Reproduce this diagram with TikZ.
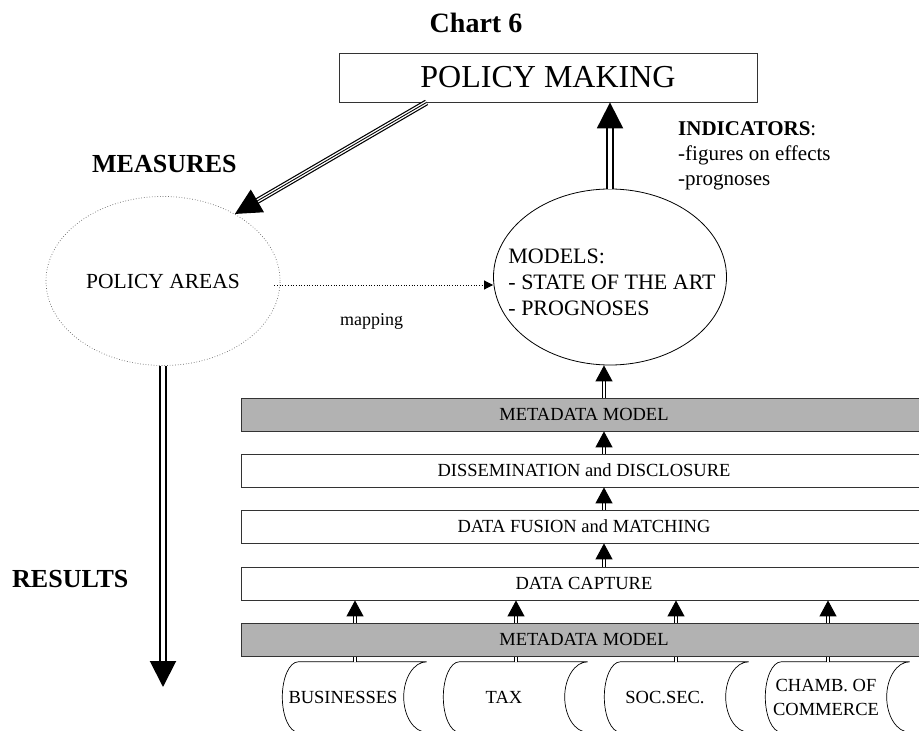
\documentclass[tikz,border=0pt]{standalone}
\usepackage{fontspec}
\setmainfont{Liberation Serif}
\usetikzlibrary{shapes.geometric, arrows.meta}
\tikzstyle{layer}=[draw=black!80, line width=.8bp, minimum width=686bp, minimum height=33bp, inner sep=0, font=\fontsize{18.5bp}{22bp}\selectfont]
\tikzstyle{meta}=[layer, fill=black!30]
\tikzstyle{store}=[minimum width=121bp, minimum height=70bp, inner sep=0, align=center, font=\fontsize{18.5bp}{24bp}\selectfont,
  append after command={\pgfextra{\let\thisstore\tikzlastnode
    \draw[line width=.7bp] ([xshift=16bp]\thisstore.north west)
      .. controls ([xshift=7bp]\thisstore.north west) and ([yshift=19bp]\thisstore.west) .. (\thisstore.west)
      .. controls ([yshift=-19bp]\thisstore.west) and ([xshift=7bp]\thisstore.south west) .. ([xshift=16bp]\thisstore.south west)
      -- ([xshift=23bp]\thisstore.south east)
      .. controls ([xshift=10bp]\thisstore.south east) and ([yshift=-19bp]\thisstore.east) .. (\thisstore.east)
      .. controls ([yshift=19bp]\thisstore.east) and ([xshift=10bp]\thisstore.north east) .. ([xshift=23bp]\thisstore.north east)
      -- cycle;}}]
\tikzstyle{bigarrow}=[double, double distance=3.2bp, line width=2bp, -{Triangle[length=26bp, width=26bp]}]
\tikzstyle{smallarrow}=[double, double distance=1.8bp, line width=1bp, -{Triangle[length=16bp, width=17bp]}]
\tikzstyle{mapline}=[dotted, line width=.7bp, -{Triangle[length=9bp, width=9bp]}]
\tikzstyle{heading}=[font=\bfseries\fontsize{26bp}{30bp}\selectfont, anchor=base west, inner sep=0]

\begin{document}
\begin{tikzpicture}[x=1bp, y=-1bp]
  \useasboundingbox (0,0) rectangle (919,731);
  \clip (0,0) rectangle (919,731);

  \node[font=\bfseries\fontsize{28bp}{30bp}\selectfont, anchor=base, inner sep=0] (title) at (476,33) {Chart 6};
  \node[draw=black!80, line width=.8bp, minimum width=418bp, minimum height=49bp, font=\fontsize{32bp}{34bp}\selectfont] (pm) at (548,77.5) {POLICY MAKING};

  \node[ellipse, draw=black!60, dotted, line width=.7bp, minimum width=234bp, minimum height=169bp, inner sep=0, font=\fontsize{21.5bp}{24bp}\selectfont] (pa) at (163,281) {POLICY AREAS};
  \node[ellipse, draw, line width=.8bp, minimum width=233bp, minimum height=176bp] (models) at (610,277) {};
  \node[align=left, inner sep=0, font=\fontsize{22bp}{26bp}\selectfont] (modtext) at (612,282) {MODELS:\\- STATE OF THE ART\\- PROGNOSES};

  \node[heading] (measures) at (92,173) {MEASURES};
  \node[heading] (results) at (12,587) {RESULTS};
  \node[anchor=base west, inner sep=0, font=\fontsize{18bp}{22bp}\selectfont] (mapping) at (340,325) {mapping};
  \node[anchor=north west, align=left, inner sep=0, font=\fontsize{21bp}{25bp}\selectfont] (ind) at (678,121) {\textbf{INDICATORS}:\\-figures on effects\\-prognoses};

  \node[meta] (meta1) at (584,414.5) {METADATA MODEL};
  \node[layer] (dissem) at (584,470.5) {DISSEMINATION and DISCLOSURE};
  \node[layer] (fusion) at (584,526.5) {DATA FUSION and MATCHING};
  \node[layer] (capture) at (584,583.5) {DATA CAPTURE};

  \node[store] (bus) at (343,697) {BUSINESSES};
  \node[store] (tax) at (504,697) {TAX};
  \node[store] (soc) at (665,697) {SOC.SEC.};
  \node[store] (chamb) at (826,697) {CHAMB. OF\\COMMERCE};

  \draw[smallarrow] ([xshift=12bp]bus.north) -- ([xshift=12bp]bus.north |- capture.south);
  \draw[smallarrow] ([xshift=12bp]tax.north) -- ([xshift=12bp]tax.north |- capture.south);
  \draw[smallarrow] ([xshift=11bp]soc.north) -- ([xshift=11bp]soc.north |- capture.south);
  \draw[smallarrow] ([xshift=2bp]chamb.north) -- ([xshift=2bp]chamb.north |- capture.south);

  \node[meta] (meta2) at (584,639.5) {METADATA MODEL};

  \draw[smallarrow] ([xshift=-6bp]capture.north -| models.south) -- ([xshift=-6bp]fusion.south -| models.south);
  \draw[smallarrow] ([xshift=-6bp]fusion.north -| models.south) -- ([xshift=-6bp]dissem.south -| models.south);
  \draw[smallarrow] ([xshift=-6bp]dissem.north -| models.south) -- ([xshift=-6bp]meta1.south -| models.south);
  \draw[smallarrow] ([xshift=-6bp]meta1.north -| models.south) -- ([xshift=-6bp]models.south);

  \coordinate (resend) at (163,687);
  \coordinate (mapfrom) at ([xshift=-6bp, yshift=-4bp]pa.east);

  \draw[bigarrow] (models.north) -- (models.north |- pm.south);
  \draw[bigarrow] (pa.south) -- (resend);
  \draw[bigarrow, line width=1.2bp, double distance=3.6bp] ([xshift=88bp]pm.south west) -- (pa.43);
  \draw[line width=.9bp, shorten >=20bp] ([xshift=88bp]pm.south west) -- (pa.43);
  \draw[mapline] (mapfrom) -- (mapfrom -| models.west);
\end{tikzpicture}
\end{document}
